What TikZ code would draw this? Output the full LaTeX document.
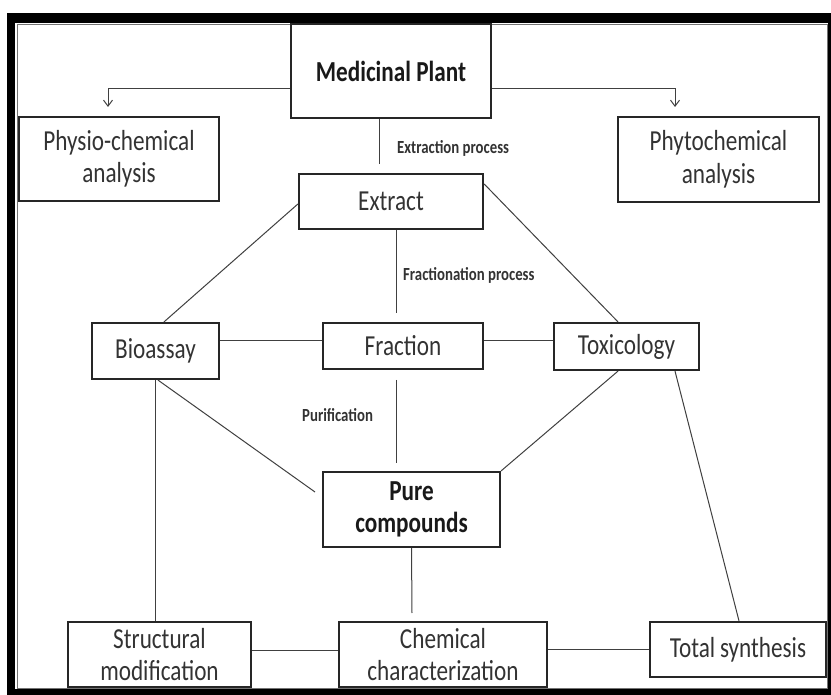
\documentclass[tikz,border=0pt]{standalone}
\usepackage{fontspec}
\setmainfont{Carlito}[FakeStretch=0.8]
\usetikzlibrary{arrows.meta}
\begin{document}
\begin{tikzpicture}[x=1pt,y=-1pt,
  box/.style={draw=black!85, line width=2.2pt, fill=white, inner sep=0pt, align=center,
    font=\fontsize{29}{32.5}\selectfont, text=black!80},
  boldbox/.style={box, font=\bfseries\fontsize{29}{32.5}\selectfont, text=black!90},
  lbl/.style={font=\bfseries\fontsize{18.5}{20}\selectfont, text=black!80, inner sep=0pt, anchor=west},
  conn/.style={draw=black!75, line width=1pt},
  arr/.style={conn, -{Straight Barb[length=6pt,width=9pt]}}]
\useasboundingbox (0,0) rectangle (831,695);
% frame
\fill[black] (7,13) rectangle (831,695);
\fill[white] (15,23) rectangle (828,689);
\draw[black!55, line width=0.8pt] (17.5,24.5) rectangle (827.5,688);
% nodes
\node[boldbox, minimum width=200pt, minimum height=94pt] (mp) at (391,71) {Medicinal Plant};
\node[box, minimum width=200pt, minimum height=84pt] (phys) at (119,159) {Physio-chemical\\analysis};
\node[box, minimum width=201pt, minimum height=85pt] (phyt) at (718.5,159.5) {Phytochemical\\analysis};
\node[box, minimum width=184pt, minimum height=55pt] (ext) at (391,201.5) {Extract};
\node[box, minimum width=127pt, minimum height=56pt] (bio) at (155.5,351) {Bioassay};
\node[box, minimum width=160pt, minimum height=46pt] (frac) at (403,346) {Fraction};
\node[box, minimum width=145pt, minimum height=47pt] (tox) at (626.5,346.5) {Toxicology};
\node[boldbox, minimum width=177pt, minimum height=75pt] (pure) at (411.5,509.5) {Pure\\compounds};
\node[box, minimum width=183pt, minimum height=65pt] (str) at (159.5,654.5) {Structural\\modification};
\node[box, minimum width=208pt, minimum height=65pt] (chem) at (443,654.5) {Chemical\\characterization};
\node[box, minimum width=176pt, minimum height=55pt] (tot) at (738,649.5) {Total\,synthesis};
% free ends
\coordinate (a1) at (108,107);
\coordinate (a2) at (675,107);
\coordinate (e1) at (379,164);
\coordinate (f2) at (396,313);
\coordinate (p1) at (396,380);
\coordinate (p2) at (396,463);
\coordinate (bp) at (315,492);
\coordinate (pc) at (412,613);
% connectors
\draw[arr] (mp.west |- 0,89) -| (a1);
\draw[arr] (mp.east |- 0,89) -| (a2);
\draw[conn] (mp.south -| e1) -- (e1);
\draw[conn] (ext.south -| f2) -- (f2);
\draw[conn] (p1) -- (p2);
\draw[conn] ([yshift=-2.5pt]ext.west) -- ([xshift=8.5pt]bio.north);
\draw[conn] ([yshift=-11pt]ext.north east) -- ([xshift=-8.5pt]tox.north);
\draw[conn] ([yshift=5pt]frac.west -| bio.east) -- ([yshift=5pt]frac.west);
\draw[conn] ([yshift=5pt]frac.east) -- ([yshift=5pt]frac.east -| tox.west);
\draw[conn] ([xshift=2.5pt]bio.south) -- (bp);
\draw[conn] ([xshift=-8.5pt]tox.south) -- (pure.north east);
\draw[conn] ([xshift=48.5pt]tox.south) -- ([xshift=1pt]tot.north);
\draw[conn] (bio.south) -- (bio.south |- str.north);
\draw[conn] (pure.south) -- (pc);
\draw[conn] ([yshift=4.5pt]str.east) -- ([yshift=4.5pt]chem.west);
\draw[conn] (chem.east |- tot.west) -- (tot.west);
% labels
\node[lbl] (lex) at (397,148) {Extraction process};
\node[lbl] (lfr) at (403,275) {Fractionation process};
\node[lbl] (lpu) at (302,415) {Purification};
\end{tikzpicture}
\end{document}
